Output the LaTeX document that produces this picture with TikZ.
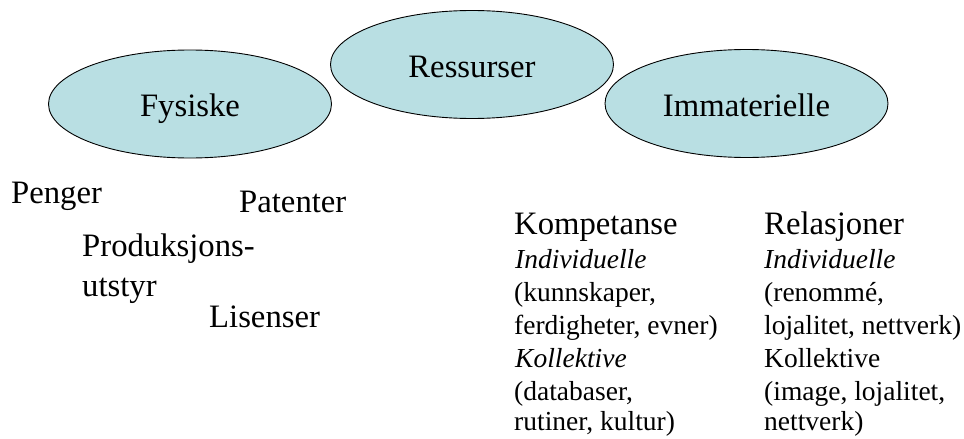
\documentclass[tikz,border=0pt]{standalone}
\usepackage{fontspec}
\setmainfont{Liberation Serif}
\usetikzlibrary{shapes.geometric}
\definecolor{ovalfill}{RGB}{185,223,227}
\tikzset{
  oval/.style={ellipse, draw=black, line width=0.9pt, fill=ovalfill,
    minimum width=283pt, minimum height=108pt, inner sep=0pt,
    text height=25pt, text depth=0pt,
    font=\fontsize{32.7}{39}\selectfont},
  bigtxt/.style={anchor=base west, inner sep=0pt, font=\fontsize{32.7}{39}\selectfont},
  smalltxt/.style={anchor=base west, inner sep=0pt, font=\fontsize{27.5}{33}\selectfont},
  smallit/.style={smalltxt, font=\fontsize{27.5}{33}\selectfont\itshape}
}
\begin{document}
\begin{tikzpicture}[x=1pt,y=-1pt]
\useasboundingbox (0,0) rectangle (964,439);
% ovals
\node[oval] (fys) at (190,104) {Fysiske};
\node[oval] (res) at (472,64.5) {Ressurser};
\node[oval] (imm) at (746.5,103.5) {Immaterielle};
% physical resources
\node[bigtxt] (penger) at (11,203) {Penger};
\node[bigtxt] (patenter) at (239,212) {Patenter};
\node[bigtxt] (prod1) at (82,256) {Produksjons-};
\node[bigtxt] (prod2) at (82,296) {utstyr};
\node[bigtxt] (lis) at (209,327) {Lisenser};
% competence column
\node[bigtxt] (komp) at (514,234) {Kompetanse};
\node[smallit] (k1) at (515,268) {Individuelle};
\node[smalltxt] (k2) at (514,301) {(kunnskaper,};
\node[smalltxt] (k3) at (514,334) {ferdigheter, evner)};
\node[smallit] (k4) at (515,367) {Kollektive};
\node[smalltxt] (k5) at (514,400) {(databaser,};
\node[smalltxt] (k6) at (514,430) {rutiner, kultur)};
% relations column
\node[bigtxt] (rel) at (764,234) {Relasjoner};
\node[smallit] (r1) at (764,268) {Individuelle};
\node[smalltxt] (r2) at (764,301) {(renommé,};
\node[smalltxt] (r3) at (764,334) {lojalitet, nettverk)};
\node[smalltxt] (r4) at (764,367) {Kollektive};
\node[smalltxt] (r5) at (764,400) {(image, lojalitet,};
\node[smalltxt] (r6) at (764,430) {nettverk)};
\end{tikzpicture}
\end{document}
